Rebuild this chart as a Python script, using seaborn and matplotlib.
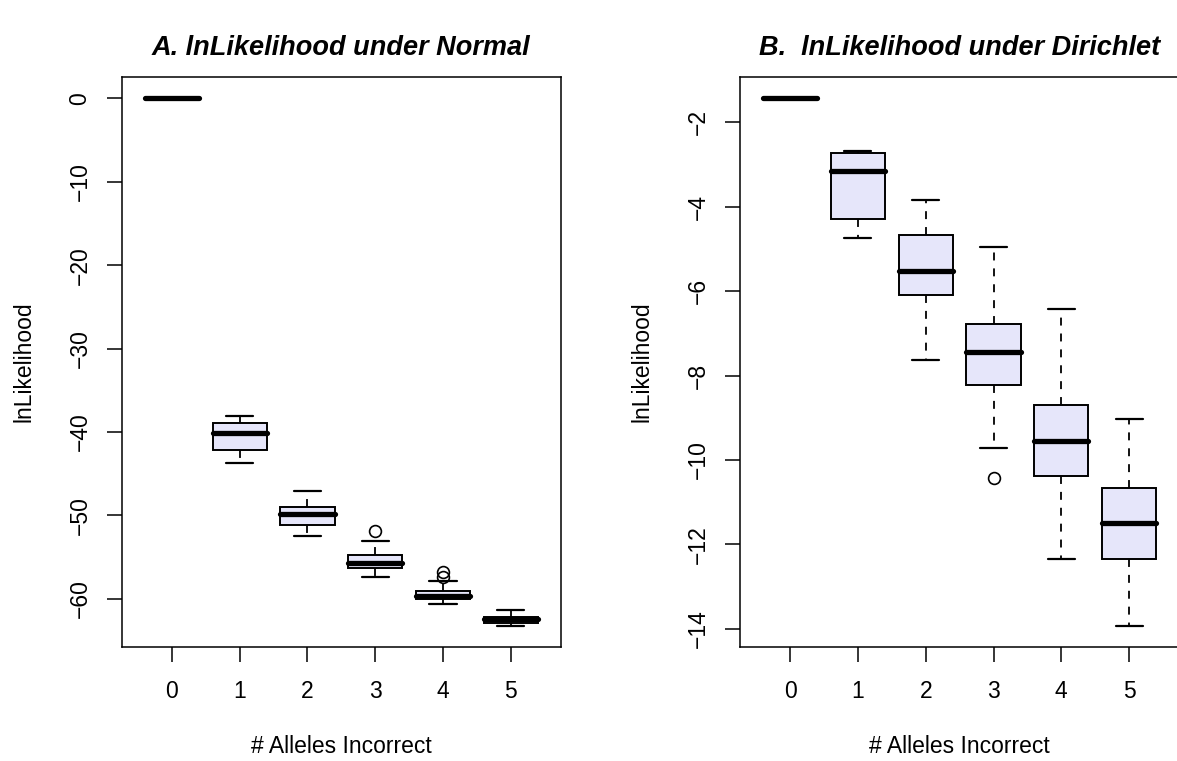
import numpy as np
import matplotlib
matplotlib.use("Agg")
import matplotlib.pyplot as plt
import seaborn as sns

# number of incorrect alleles (groups)
alleles = [0, 1, 2, 3, 4, 5]

# A: lnLikelihood under Normal (five-number summaries)
normal_whislo = [0.0, -43.76, -52.45, -57.36, -60.60, -63.24]
normal_q1 = [0.0, -42.17, -51.13, -56.35, -60.04, -62.88]
normal_med = [0.0, -40.17, -49.81, -55.68, -59.68, -62.47]
normal_q3 = [0.0, -38.90, -48.97, -54.80, -59.11, -62.16]
normal_whishi = [0.0, -38.06, -47.05, -53.08, -57.88, -61.39]
normal_fliers = [[], [], [], [-51.88], [-56.76, -57.43], []]

# B: lnLikelihood under Dirichlet
dir_whislo = [-1.43, -4.74, -7.63, -9.71, -12.34, -13.93]
dir_q1 = [-1.43, -4.28, -6.10, -8.23, -10.39, -12.34]
dir_med = [-1.43, -3.15, -5.52, -7.44, -9.55, -11.50]
dir_q3 = [-1.43, -2.73, -4.66, -6.78, -8.69, -10.67]
dir_whishi = [-1.43, -2.67, -3.84, -4.95, -6.43, -9.04]
dir_fliers = [[], [], [], [-10.44], [], []]

yticks_a = [0, -10, -20, -30, -40, -50, -60]
yticks_b = [-2, -4, -6, -8, -10, -12, -14]

sns.set_style("white")
plt.rcParams['font.family'] = ['Liberation Sans', 'DejaVu Sans']
plt.rcParams['text.color'] = 'black'
plt.rcParams['axes.labelcolor'] = 'black'


def make_stats(lo, q1, med, q3, hi, fl):
    out = []
    for i in range(len(alleles)):
        out.append(dict(whislo=lo[i], q1=q1[i], med=med[i], q3=q3[i],
                        whishi=hi[i], fliers=fl[i]))
    return out


def draw_panel(ax, stats, title, yticks):
    ax.bxp(stats, positions=alleles, widths=0.8, patch_artist=True,
           boxprops=dict(facecolor='#E6E6FA', edgecolor='black', linewidth=1.4),
           medianprops=dict(color='black', linewidth=3.8, solid_capstyle='round'),
           whiskerprops=dict(color='black', linewidth=1.3, linestyle=(0, (4.4, 4.4))),
           capprops=dict(color='black', linewidth=1.6),
           flierprops=dict(marker='o', markerfacecolor='none', markeredgecolor='black',
                           markersize=8.5, markeredgewidth=1.2))
    # R-style 4% padding around the data range
    lo = min(min(s['whislo'] for s in stats), min([f for s in stats for f in s['fliers']] + [0]))
    hi = max(max(s['whishi'] for s in stats), max([f for s in stats for f in s['fliers']] + [-100]))
    pad = (hi - lo) * 0.04
    ax.set_ylim(lo - pad, hi + pad)
    ax.set_xlim(-0.74, 5.74)
    ax.set_xticks(alleles)
    ax.set_xticklabels([str(a) for a in alleles])
    ax.set_yticks(yticks)
    ax.set_yticklabels([str(t).replace('-', '\u2212') for t in yticks],
                       rotation=90, va='center')
    ax.tick_params(axis='both', direction='out', length=10.8, width=1.1,
                   labelsize=16.5, colors='black', bottom=True, left=True)
    ax.tick_params(axis='x', pad=13)
    ax.tick_params(axis='y', pad=11)
    for sp in ax.spines.values():
        sp.set_visible(True)
        sp.set_color('black')
        sp.set_linewidth(1.1)
    ax.set_xlabel('# Alleles Incorrect', fontsize=16.5, labelpad=23)
    ax.set_ylabel('lnLikelihood', fontsize=16.5, labelpad=24)
    ax.set_title(title, fontsize=19.5, fontweight='bold', fontstyle='italic',
                 pad=16, color='black')


fig = plt.figure(figsize=(11.77, 7.61), dpi=100)
ax1 = fig.add_axes([0.1034, 0.1502, 0.3732, 0.7482])
ax2 = fig.add_axes([0.6287, 0.1502, 0.3732, 0.7482])

draw_panel(ax1, make_stats(normal_whislo, normal_q1, normal_med, normal_q3,
                           normal_whishi, normal_fliers),
           'A. lnLikelihood under Normal', yticks_a)
draw_panel(ax2, make_stats(dir_whislo, dir_q1, dir_med, dir_q3,
                           dir_whishi, dir_fliers),
           'B.  lnLikelihood under Dirichlet', yticks_b)

fig.savefig('out.png', dpi=100, facecolor='white')
